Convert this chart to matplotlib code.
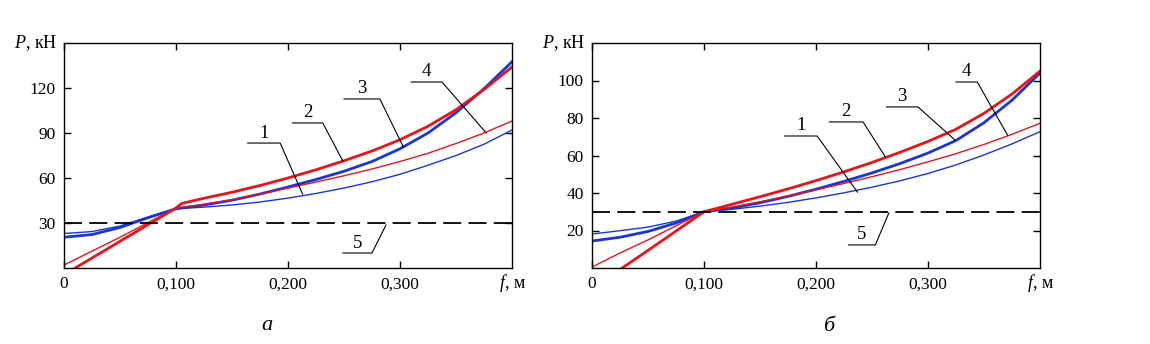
import matplotlib
matplotlib.use('Agg')
import matplotlib.pyplot as plt

plt.rcParams['font.family'] = ['Liberation Serif', 'DejaVu Serif']
plt.rcParams['mathtext.fontset'] = 'custom'
plt.rcParams['mathtext.it'] = 'Liberation Serif:italic'
plt.rcParams['mathtext.rm'] = 'Liberation Serif'

RED = '#e8141c'
BLUE = '#1a35d6'

# ---- panel a ----
f_a = [0.0, 0.025, 0.05, 0.075, 0.1, 0.125, 0.15, 0.175, 0.2, 0.225,
       0.25, 0.275, 0.3, 0.325, 0.35, 0.375, 0.4]
a_curve1 = [23, 24.3, 28, 34, 39.5, 40.6, 42, 44, 46.6, 49.7,
            53.3, 57.5, 62.5, 68.5, 75, 82.5, 92]
a_curve3 = [20.5, 22.3, 27, 33.5, 39.5, 42, 45.2, 49.3, 54, 59,
            64.5, 71, 79.5, 90, 103.5, 119.5, 137.5]
f_a2 = [0.01, 0.05, 0.075, 0.1, 0.105, 0.125, 0.15, 0.175, 0.2, 0.225,
        0.25, 0.275, 0.3, 0.325, 0.35, 0.375, 0.4]
a_curve2 = [0, 17.8, 28.9, 40, 43, 46.5, 50.5, 55, 60, 65.5,
            71.5, 78, 85.5, 94.5, 105.5, 119, 134]
f_a4 = [0.0, 0.05, 0.1, 0.125, 0.15, 0.175, 0.2, 0.225,
        0.25, 0.275, 0.3, 0.325, 0.35, 0.375, 0.4]
a_curve4 = [2, 20.5, 40, 42.5, 45.5, 49.3, 53.3, 57.3,
            61.5, 66, 71, 76.5, 83, 90, 98]
a_limit = 30

# ---- panel b ----
f_b = [0.0, 0.025, 0.05, 0.075, 0.1, 0.125, 0.15, 0.175, 0.2, 0.225,
       0.25, 0.275, 0.3, 0.325, 0.35, 0.375, 0.4]
b_curve1 = [18.1, 19.9, 21.8, 25, 30, 31.3, 33, 35, 37.4, 40.1,
            43.1, 46.5, 50.4, 55, 60.3, 66.2, 72.7]
b_curve3 = [14.4, 16.4, 19.5, 24, 30, 32, 34.8, 38.2, 42, 46.2,
            50.7, 55.7, 61.3, 68, 77.5, 89.5, 104]
b_curve4 = [0.5, 8, 15, 22.5, 30, 32.5, 35.3, 38.4, 41.7, 45.1,
            48.7, 52.5, 56.6, 61, 65.9, 71.3, 77.2]
f_b2 = [0.027, 0.05, 0.075, 0.1, 0.125, 0.15, 0.175, 0.2, 0.225,
        0.25, 0.275, 0.3, 0.325, 0.35, 0.375, 0.4]
b_curve2 = [0, 9.4, 19.7, 30, 34, 38, 42.2, 46.6, 51.3,
            56.3, 61.7, 67.5, 74, 82.5, 92.8, 105]
b_limit = 30

x_ticks = [0, 0.1, 0.2, 0.3]
x_labels = ['0', '0,100', '0,200', '0,300']
a_yticks = [30, 60, 90, 120]
b_yticks = [20, 40, 60, 80, 100]

# callouts: label, (shelf start, shelf end, shelf height), pointer end
a_callouts = [('1', (0.164, 0.193, 83.3), (0.213, 49.3)),
              ('2', (0.204, 0.231, 96.7), (0.249, 71.3)),
              ('3', (0.250, 0.282, 112.7), (0.303, 80.7)),
              ('4', (0.310, 0.3375, 124.0), (0.377, 90.0)),
              ('5', (0.249, 0.275, 10.0), (0.2875, 28.7))]
b_callouts = [('1', (0.172, 0.201, 70.4), (0.237, 40.5)),
              ('2', (0.212, 0.242, 77.9), (0.262, 59.2)),
              ('3', (0.263, 0.291, 85.9), (0.324, 68.3)),
              ('4', (0.325, 0.344, 99.2), (0.371, 70.9)),
              ('5', (0.229, 0.253, 12.3), (0.265, 29.3))]

fig = plt.figure(figsize=(11.5, 3.44), dpi=100)
ax_a = fig.add_axes([64 / 1150, 76 / 344, 448 / 1150, 225 / 344])
ax_b = fig.add_axes([592 / 1150, 76 / 344, 448 / 1150, 225 / 344])


def draw_panel(ax, ymax, yticks, lines, limit, callouts, yscale):
    thick, thin = 2.0, 1.0
    (f1, c1), (f2, c2), (f3, c3), (f4, c4) = lines
    ax.plot(f1, c1, color=BLUE, lw=thin)
    ax.plot(f3, c3, color=BLUE, lw=thick)
    ax.plot(f4, c4, color=RED, lw=thin)
    ax.plot(f2, c2, color=RED, lw=thick)
    ax.axhline(limit, color='black', lw=1.3, dashes=(10, 4))

    for lab, (x0, x1, y), (xe, ye) in callouts:
        ax.plot([x0, x1, xe], [y, y, ye], color='black', lw=0.8)
        ax.text((x0 + x1) / 2, y + 1.0 * yscale, lab, ha='center',
                va='bottom', fontsize=13.5)

    ax.set_xlim(0, 0.4)
    ax.set_ylim(0, ymax)
    ax.set_xticks(x_ticks)
    ax.set_xticklabels(x_labels)
    ax.set_yticks(yticks)
    ax.tick_params(direction='in', top=True, right=True, length=5,
                   width=1, labelsize=12.5, pad=6)
    for s in ax.spines.values():
        s.set_linewidth(1.0)
    ax.text(-0.006, ymax, '$P$, кН', ha='right', va='center', fontsize=13)
    ax.text(0.388, -0.066 * ymax, '$f$, м', ha='left', va='center',
            fontsize=13)


draw_panel(ax_a, 150, a_yticks,
           [(f_a, a_curve1), (f_a2, a_curve2), (f_a, a_curve3), (f_a4, a_curve4)],
           a_limit, a_callouts, 1.0)
draw_panel(ax_b, 120, b_yticks,
           [(f_b, b_curve1), (f_b2, b_curve2), (f_b, b_curve3), (f_b, b_curve4)],
           b_limit, b_callouts, 0.8)

fig.text(267 / 1150, 1 - 326 / 344, '$a$', ha='center', va='center', fontsize=16)
fig.text(830 / 1150, 1 - 326 / 344, '$б$', ha='center', va='center', fontsize=16)

fig.savefig('out.png', dpi=100)
